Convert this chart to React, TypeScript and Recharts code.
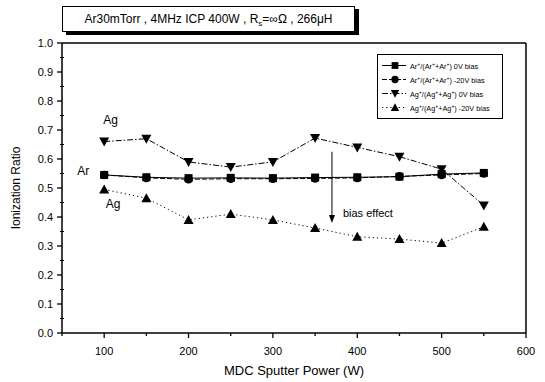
import React from 'react';
import { LineChart, Line, XAxis, YAxis, ReferenceLine, ReferenceDot, Label } from 'recharts';

const power = [100, 150, 200, 250, 300, 350, 400, 450, 500, 550];
const ar0V = [0.545, 0.537, 0.534, 0.535, 0.534, 0.536, 0.537, 0.539, 0.548, 0.552];
const ar20V = [0.545, 0.535, 0.530, 0.532, 0.532, 0.533, 0.535, 0.540, 0.545, 0.550];
const ag0V = [0.66, 0.67, 0.59, 0.572, 0.59, 0.672, 0.64, 0.608, 0.565, 0.44];
const ag20V = [0.495, 0.465, 0.39, 0.41, 0.39, 0.362, 0.332, 0.324, 0.31, 0.366];

const xTicks = [50, 100, 150, 200, 250, 300, 350, 400, 450, 500, 550, 600];
const yTicks = [0, 0.05, 0.1, 0.15, 0.2, 0.25, 0.3, 0.35, 0.4, 0.45, 0.5, 0.55, 0.6, 0.65, 0.7, 0.75, 0.8, 0.85, 0.9, 0.95, 1.0];

const titleText = 'Ar30mTorr , 4MHz ICP 400W , R';
const titleSub = 's';
const titleTail = '=∞Ω , 266μH';
const xLabel = 'MDC Sputter Power (W)';
const yLabel = 'Ionization Ratio';

const series = [
  { key: 'ar0V', el: 'Ar', bias: '0V bias', marker: 'square', dash: undefined },
  { key: 'ar20V', el: 'Ar', bias: '-20V bias', marker: 'circle', dash: '5 2' },
  { key: 'ag0V', el: 'Ag', bias: '0V bias', marker: 'down', dash: '6 2 1.5 2' },
  { key: 'ag20V', el: 'Ag', bias: '-20V bias', marker: 'up', dash: '1.2 3' },
];

const data = power.map((p, i) => ({
  power: p,
  ar0V: ar0V[i],
  ar20V: ar20V[i],
  ag0V: ag0V[i],
  ag20V: ag20V[i],
}));

const FONT = 'Arial, "Liberation Sans", Helvetica, sans-serif';

function markerEl(kind: string, cx: number, cy: number, k?: any, s: number = 1) {
  switch (kind) {
    case 'square':
      return <rect key={k} x={cx - 4 * s} y={cy - 4 * s} width={8 * s} height={8 * s} fill="#000" />;
    case 'circle':
      return <circle key={k} cx={cx} cy={cy} r={4.3 * s} fill="#000" />;
    case 'down':
      return <polygon key={k} points={`${cx - 5 * s},${cy - 4 * s} ${cx + 5 * s},${cy - 4 * s} ${cx},${cy + 5 * s}`} fill="#000" />;
    default:
      return <polygon key={k} points={`${cx - 5 * s},${cy + 4 * s} ${cx + 5 * s},${cy + 4 * s} ${cx},${cy - 5 * s}`} fill="#000" />;
  }
}

const makeDot = (kind: string) => (props: any) => {
  const { cx, cy, index } = props;
  if (cx == null || cy == null) return <g key={`e${index}`} />;
  return markerEl(kind, cx, cy, `${kind}-${index}`);
};

const YTick = (props: any) => {
  const { x, y, payload } = props;
  const v = payload.value as number;
  const major = Math.abs(v * 10 - Math.round(v * 10)) < 1e-6;
  return (
    <g>
      {major ? (
        <line x1={x - 5} x2={x} y1={y} y2={y} stroke="#000" strokeWidth={1.3} />
      ) : (
        <line x1={x - 2} x2={x + 2} y1={y} y2={y} stroke="#000" strokeWidth={1} />
      )}
      {major && (
        <text x={x - 9} y={y} textAnchor="end" dominantBaseline="central" fontSize={11} fontFamily={FONT} fill="#000">
          {v.toFixed(1)}
        </text>
      )}
    </g>
  );
};

const XTick = (props: any) => {
  const { x, y, payload } = props;
  const v = payload.value as number;
  const major = v % 100 === 0;
  return (
    <g>
      <line x1={x} x2={x} y1={y} y2={y + (major ? 5 : 3)} stroke="#000" strokeWidth={1.3} />
      {major && (
        <text x={x} y={y + 18} textAnchor="middle" dominantBaseline="central" fontSize={11} fontFamily={FONT} fill="#000">
          {v}
        </text>
      )}
    </g>
  );
};

const textShape = (txt: string, size: number, anchor: string = 'start') => (props: any) => (
  <text x={props.cx} y={props.cy} textAnchor={anchor} dominantBaseline="central" fontSize={size} fontFamily={FONT} fill="#000">
    {txt}
  </text>
);

const arrowHead = (props: any) => (
  <polygon points={`${props.cx - 3},${props.cy - 8} ${props.cx + 3},${props.cy - 8} ${props.cx},${props.cy}`} fill="#000" />
);

function LegendBox() {
  return (
    <div
      style={{
        position: 'absolute',
        left: 377,
        top: 54,
        width: 124,
        height: 63,
        border: '1px solid #000',
        background: '#fff',
        overflow: 'hidden',
        fontFamily: FONT,
      }}
    >
      {series.map((s, i) => (
        <div key={s.key} style={{ position: 'absolute', left: 0, top: 4 + i * 14, height: 13, width: 140, display: 'flex', alignItems: 'center' }}>
          <svg width={29} height={13} style={{ flex: 'none' }}>
            <line x1={4} x2={28} y1={6.5} y2={6.5} stroke="#000" strokeWidth={1} strokeDasharray={s.dash} />
            {markerEl(s.marker, 17, 6.5, undefined, 0.85)}
          </svg>
          <span style={{ fontSize: 7.3, whiteSpace: 'nowrap', marginLeft: 3, lineHeight: '13px' }}>
            {s.el}
            <sup style={{ fontSize: 5 }}>+</sup>/({s.el}
            <sup style={{ fontSize: 5 }}>+</sup>+{s.el}
            <sup style={{ fontSize: 5 }}>+</sup>) {s.bias}
          </span>
        </div>
      ))}
    </div>
  );
}

export default function App() {
  return (
    <div style={{ position: 'absolute', left: 0, top: 0, width: 545, height: 382, background: '#fff', fontFamily: FONT }}>
      <LineChart width={545} height={382} data={data} margin={{ top: 43, right: 19, bottom: 0, left: 0 }}>
        <XAxis
          dataKey="power"
          type="number"
          domain={[50, 600]}
          ticks={xTicks}
          interval={0}
          tickSize={0}
          tickMargin={0}
          tickLine={false}
          tick={<XTick />}
          height={49}
          axisLine={{ stroke: '#000', strokeWidth: 1.5 }}
        >
          <Label
            content={(p: any) => {
              const vb = p.viewBox || { x: 62, width: 464 };
              return (
                <text x={vb.x + vb.width / 2} y={370} textAnchor="middle" dominantBaseline="central" fontSize={13} fontFamily={FONT} fill="#000">
                  {xLabel}
                </text>
              );
            }}
          />
        </XAxis>
        <YAxis
          type="number"
          domain={[0, 1]}
          ticks={yTicks}
          interval={0}
          tickSize={0}
          tickMargin={0}
          tickLine={false}
          tick={<YTick />}
          width={62}
          axisLine={{ stroke: '#000', strokeWidth: 1.5 }}
        >
          <Label
            content={(p: any) => {
              const vb = p.viewBox || { y: 43, height: 290 };
              const cy = vb.y + vb.height / 2;
              return (
                <text x={16} y={cy} transform={`rotate(-90 16 ${cy})`} textAnchor="middle" dominantBaseline="central" fontSize={12} fontFamily={FONT} fill="#000">
                  {yLabel}
                </text>
              );
            }}
          />
        </YAxis>
        <ReferenceLine y={1} stroke="#000" strokeWidth={1.5} />
        <ReferenceLine x={600} stroke="#000" strokeWidth={1.5} />
        {series.map((s) => (
          <Line
            key={s.key}
            dataKey={s.key}
            type="linear"
            stroke="#000"
            strokeWidth={1}
            strokeDasharray={s.dash}
            dot={makeDot(s.marker)}
            activeDot={false}
            isAnimationActive={false}
          />
        ))}
        <ReferenceDot x={99} y={0.734} r={0} ifOverflow="visible" shape={textShape('Ag', 12)} />
        <ReferenceDot x={68} y={0.559} r={0} ifOverflow="visible" shape={textShape('Ar', 12)} />
        <ReferenceDot x={102} y={0.445} r={0} ifOverflow="visible" shape={textShape('Ag', 12)} />
        <ReferenceLine segment={[{ x: 370, y: 0.625 }, { x: 370, y: 0.39 }]} stroke="#000" strokeWidth={1} ifOverflow="visible" />
        <ReferenceDot x={370} y={0.379} r={0} ifOverflow="visible" shape={arrowHead} />
        <ReferenceDot x={383} y={0.414} r={0} ifOverflow="visible" shape={textShape('bias effect', 11)} />
      </LineChart>
      <div
        style={{
          position: 'absolute',
          left: 62,
          top: 6,
          width: 291,
          height: 24,
          border: '1px solid #000',
          boxShadow: '4px 3px 0 #000',
          background: '#fff',
          fontSize: 12,
          lineHeight: '24px',
          textAlign: 'center',
          fontFamily: FONT,
          whiteSpace: 'nowrap',
        }}
      >
        {titleText}
        <sub style={{ fontSize: 8 }}>{titleSub}</sub>
        {titleTail}
      </div>
      <LegendBox />
    </div>
  );
}
